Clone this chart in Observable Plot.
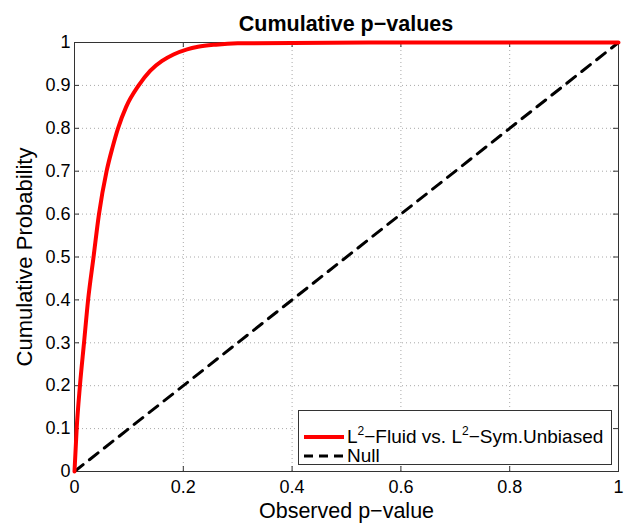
<!DOCTYPE html>
<html><head><meta charset="utf-8">
<script src="https://cdn.jsdelivr.net/npm/d3@7"></script>
<script src="https://cdn.jsdelivr.net/npm/@observablehq/plot@0.6"></script>
<style>
body{margin:0;background:#fff;font-family:"Liberation Sans",Arial,Helvetica,sans-serif;}
#wrap{position:relative;width:634px;height:523px;overflow:hidden;}
#title{position:absolute;z-index:3;left:74px;width:544px;top:9px;line-height:30px;text-align:center;font-weight:bold;font-size:21.5px;color:#000;}
#chart{position:absolute;left:0;top:30px;}
#chart svg text{font-size:18px !important;}
#chart svg [aria-label="x-axis label"] text{font-size:21.5px !important;}
#chart svg [aria-label="y-axis label"] text{font-size:22px !important;}
#legend{position:absolute;z-index:3;left:298px;top:410px;width:314px;height:55px;border:1px solid #333;background:#fff;box-sizing:border-box;font-size:19px;color:#000;}
.row{position:absolute;left:5px;height:20px;display:flex;align-items:center;white-space:nowrap;}
.row svg{width:40px;height:10px;margin-right:3px;flex:none;}
sup{font-size:12px;vertical-align:8px;line-height:0;}
</style></head><body>
<div id="wrap">
<div id="title">Cumulative p−values</div>
<div id="chart"></div>
<div id="legend">
  <div class="row" style="top:16px"><svg><line x1="0" y1="5" x2="40" y2="5" stroke="#ff0000" stroke-width="4"/></svg><span>L<sup>2</sup>−Fluid vs. L<sup>2</sup>−Sym.Unbiased</span></div>
  <div class="row" style="top:35px"><svg><line x1="0" y1="5" x2="40" y2="5" stroke="#000" stroke-width="3" stroke-dasharray="9,6"/></svg><span>Null</span></div>
</div>
</div>
<script>
// Series: L2-Fluid vs. L2-Sym.Unbiased (cumulative distribution of observed p-values)
const fluidP   = [0, 0.004, 0.010, 0.0175, 0.025, 0.035, 0.045, 0.059, 0.070, 0.080, 0.095, 0.118, 0.139, 0.161, 0.182, 0.207, 0.227, 0.26, 0.30, 0.40, 0.60, 1.0];
const fluidCdf = [0, 0.1,   0.2,   0.3,    0.4,   0.5,   0.6,   0.7,   0.756, 0.8,   0.85,  0.9,   0.934, 0.957, 0.972, 0.984, 0.99,  0.995, 0.998, 0.999, 1.0, 1.0];
// Null (uniform)
const nullP   = [0, 1];
const nullCdf = [0, 1];
// Ticks
const xTicks = [0, 0.2, 0.4, 0.6, 0.8, 1];
const yTicks = [0, 0.1, 0.2, 0.3, 0.4, 0.5, 0.6, 0.7, 0.8, 0.9, 1];
const xGrid = [0.2, 0.4, 0.6, 0.8];
const yGrid = [0.1, 0.2, 0.3, 0.4, 0.5, 0.6, 0.7, 0.8, 0.9];

const fluid = fluidP.map((p, i) => ({p, v: fluidCdf[i]}));
const nul = nullP.map((p, i) => ({p, v: nullCdf[i]}));
const fmt = d => String(+d.toFixed(1));

const W = 634, H = 493, mL = 74, mR = 16, mT = 12, mB = 52;
const innerW = W - mL - mR, innerH = H - mT - mB;
const tk = 5;

const chart = Plot.plot({
  width: W, height: H,
  marginLeft: mL, marginRight: mR, marginTop: mT, marginBottom: mB,
  style: {fontFamily: '"Liberation Sans", Arial, sans-serif', fontSize: "18px", color: "#000", background: "transparent", overflow: "visible"},
  x: {domain: [0, 1]},
  y: {domain: [0, 1]},
  marks: [
    Plot.ruleX(xGrid, {x: d => d, stroke: "#a8a8a8", strokeDasharray: "1,3", strokeWidth: 1}),
    Plot.ruleY(yGrid, {y: d => d, stroke: "#a8a8a8", strokeDasharray: "1,3", strokeWidth: 1}),
    Plot.tickX(xTicks, {x: d => d, insetTop: innerH - tk, stroke: "#333"}),
    Plot.tickX(xTicks, {x: d => d, insetBottom: innerH - tk, stroke: "#333"}),
    Plot.tickY(yTicks, {y: d => d, insetRight: innerW - tk, stroke: "#333"}),
    Plot.tickY(yTicks, {y: d => d, insetLeft: innerW - tk, stroke: "#333"}),
    Plot.frame({stroke: "#333"}),
    Plot.line(nul, {x: "p", y: "v", stroke: "#000", strokeWidth: 3, strokeDasharray: "11,8"}),
    Plot.line(fluid, {x: "p", y: "v", stroke: "#ff0000", strokeWidth: 4, curve: "monotone-x"}),
    Plot.axisX(xTicks, {tickSize: 0, tickPadding: 9, tickFormat: fmt, label: "Observed p−value", labelAnchor: "center", labelOffset: 46, labelArrow: "none"}),
    Plot.axisY(yTicks, {tickSize: 0, tickPadding: 4, tickFormat: fmt, label: "Cumulative Probability", labelAnchor: "center", labelOffset: 58, labelArrow: "none"})
  ]
});
document.getElementById("chart").appendChild(chart);
</script>
</body></html>
